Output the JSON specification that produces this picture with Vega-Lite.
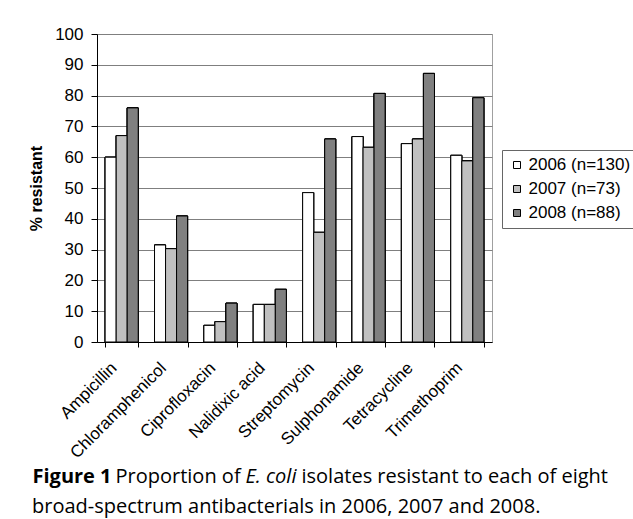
{
  "$schema": "https://vega.github.io/schema/vega-lite/v6.json",
  "width": 395,
  "height": 308,
  "autosize": {"type": "none"},
  "padding": {"left": 97, "top": 34, "right": 141, "bottom": 177},
  "background": "white",
  "config": {"view": {"stroke": "#a0a0a0", "strokeWidth": 1}},
  "data": {
    "values": [
      {"drug": "Ampicillin", "year": "2006 (n=130)", "value": 60.0},
      {"drug": "Ampicillin", "year": "2007 (n=73)", "value": 67.0},
      {"drug": "Ampicillin", "year": "2008 (n=88)", "value": 76.0},
      {"drug": "Chloramphenicol", "year": "2006 (n=130)", "value": 31.5},
      {"drug": "Chloramphenicol", "year": "2007 (n=73)", "value": 30.3},
      {"drug": "Chloramphenicol", "year": "2008 (n=88)", "value": 40.9},
      {"drug": "Ciprofloxacin", "year": "2006 (n=130)", "value": 5.4},
      {"drug": "Ciprofloxacin", "year": "2007 (n=73)", "value": 6.6},
      {"drug": "Ciprofloxacin", "year": "2008 (n=88)", "value": 12.6},
      {"drug": "Nalidixic acid", "year": "2006 (n=130)", "value": 12.2},
      {"drug": "Nalidixic acid", "year": "2007 (n=73)", "value": 12.2},
      {"drug": "Nalidixic acid", "year": "2008 (n=88)", "value": 17.1},
      {"drug": "Streptomycin", "year": "2006 (n=130)", "value": 48.5},
      {"drug": "Streptomycin", "year": "2007 (n=73)", "value": 35.6},
      {"drug": "Streptomycin", "year": "2008 (n=88)", "value": 65.9},
      {"drug": "Sulphonamide", "year": "2006 (n=130)", "value": 66.7},
      {"drug": "Sulphonamide", "year": "2007 (n=73)", "value": 63.2},
      {"drug": "Sulphonamide", "year": "2008 (n=88)", "value": 80.7},
      {"drug": "Tetracycline", "year": "2006 (n=130)", "value": 64.4},
      {"drug": "Tetracycline", "year": "2007 (n=73)", "value": 65.9},
      {"drug": "Tetracycline", "year": "2008 (n=88)", "value": 87.2},
      {"drug": "Trimethoprim", "year": "2006 (n=130)", "value": 60.6},
      {"drug": "Trimethoprim", "year": "2007 (n=73)", "value": 58.8},
      {"drug": "Trimethoprim", "year": "2008 (n=88)", "value": 79.3}
    ]
  },
  "encoding": {
    "xOffset": {"field": "year", "type": "nominal", "scale": {"paddingInner": 0, "paddingOuter": 0}},
    "y": {
      "field": "value",
      "type": "quantitative",
      "scale": {"domain": [0, 100], "nice": false},
      "axis": {
        "title": "% resistant",
        "values": [0, 10, 20, 30, 40, 50, 60, 70, 80, 90, 100],
        "grid": true,
        "gridColor": "#7f7f7f",
        "tickSize": 6,
        "tickColor": "black",
        "domainColor": "black",
        "labelPadding": 8,
        "labelFont": "Liberation Sans",
        "labelFontSize": 17,
        "labelColor": "black",
        "titleFont": "Liberation Sans",
        "titleFontSize": 16,
        "titleFontWeight": "bold",
        "titleColor": "black",
        "titlePadding": 10
      }
    },
    "fill": {
      "field": "year",
      "type": "nominal",
      "scale": {"range": ["#ffffff", "#c0c0c0", "#808080"]},
      "legend": {
        "title": null,
        "orient": "none",
        "legendX": 405,
        "legendY": 116,
        "strokeColor": "#666666",
        "padding": 6.5,
        "symbolType": "square",
        "symbolSize": 49,
        "symbolStrokeColor": "black",
        "symbolStrokeWidth": 1,
        "labelFont": "Liberation Sans",
        "labelFontSize": 17,
        "labelColor": "black",
        "labelOffset": 3,
        "rowPadding": 6
      }
    }
  },
  "layer": [
    {
      "mark": {"type": "bar", "stroke": "black", "strokeWidth": 1},
      "encoding": {
        "x": {
          "field": "drug",
          "type": "nominal",
          "sort": null,
          "scale": {"paddingInner": 0.33, "paddingOuter": 0.165},
          "axis": {
            "orient": "bottom",
            "labelAngle": -45,
            "labelAlign": "right",
            "labelBaseline": "middle",
            "labelFont": "Liberation Sans",
            "labelFontSize": 17,
            "labelColor": "black",
            "labelPadding": 18,
            "labelOffset": -8,
            "tickBand": "extent",
            "tickSize": 5,
            "tickColor": "black",
            "domainColor": "black",
            "title": "Figure 1",
            "titleX": -65,
            "titleY": 140,
            "titleAnchor": "start",
            "titleAlign": "left",
            "titleAngle": 0,
            "titleBaseline": "alphabetic",
            "titleFont": "Open Sans",
            "titleFontSize": 20,
            "titleFontWeight": "bold",
            "titleColor": "black"
          }
        }
      }
    },
    {
      "mark": {"type": "bar", "stroke": "black", "strokeWidth": 1},
      "encoding": {
        "x": {
          "field": "drug",
          "type": "nominal",
          "sort": null,
          "scale": {"paddingInner": 0.33, "paddingOuter": 0.165},
          "axis": {
            "orient": "bottom",
            "labels": false,
            "ticks": false,
            "domain": false,
            "grid": false,
            "title": "Proportion of",
            "titleX": 18,
            "titleY": 140,
            "titleAnchor": "start",
            "titleAlign": "left",
            "titleAngle": 0,
            "titleBaseline": "alphabetic",
            "titleFont": "Open Sans",
            "titleFontSize": 20,
            "titleFontWeight": "normal",
            "titleColor": "black"
          }
        }
      }
    },
    {
      "mark": {"type": "bar", "stroke": "black", "strokeWidth": 1},
      "encoding": {
        "x": {
          "field": "drug",
          "type": "nominal",
          "sort": null,
          "scale": {"paddingInner": 0.33, "paddingOuter": 0.165},
          "axis": {
            "orient": "bottom",
            "labels": false,
            "ticks": false,
            "domain": false,
            "grid": false,
            "title": "E. coli",
            "titleX": 148,
            "titleY": 140,
            "titleAnchor": "start",
            "titleAlign": "left",
            "titleAngle": 0,
            "titleBaseline": "alphabetic",
            "titleFont": "Open Sans",
            "titleFontSize": 20,
            "titleFontWeight": "normal",
            "titleFontStyle": "italic",
            "titleColor": "black"
          }
        }
      }
    },
    {
      "mark": {"type": "bar", "stroke": "black", "strokeWidth": 1},
      "encoding": {
        "x": {
          "field": "drug",
          "type": "nominal",
          "sort": null,
          "scale": {"paddingInner": 0.33, "paddingOuter": 0.165},
          "axis": {
            "orient": "bottom",
            "labels": false,
            "ticks": false,
            "domain": false,
            "grid": false,
            "title": "isolates resistant to each of eight",
            "titleX": 204,
            "titleY": 140,
            "titleAnchor": "start",
            "titleAlign": "left",
            "titleAngle": 0,
            "titleBaseline": "alphabetic",
            "titleFont": "Open Sans",
            "titleFontSize": 20,
            "titleFontWeight": "normal",
            "titleColor": "black"
          }
        }
      }
    }
  ],
  "resolve": {"axis": {"x": "independent"}},
  "title": {
    "text": "broad-spectrum antibacterials in 2006, 2007 and 2008.",
    "orient": "bottom",
    "anchor": "start",
    "frame": "group",
    "baseline": "alphabetic",
    "dx": -65,
    "offset": 27,
    "font": "Open Sans",
    "fontSize": 20,
    "fontWeight": "normal",
    "color": "black"
  }
}
